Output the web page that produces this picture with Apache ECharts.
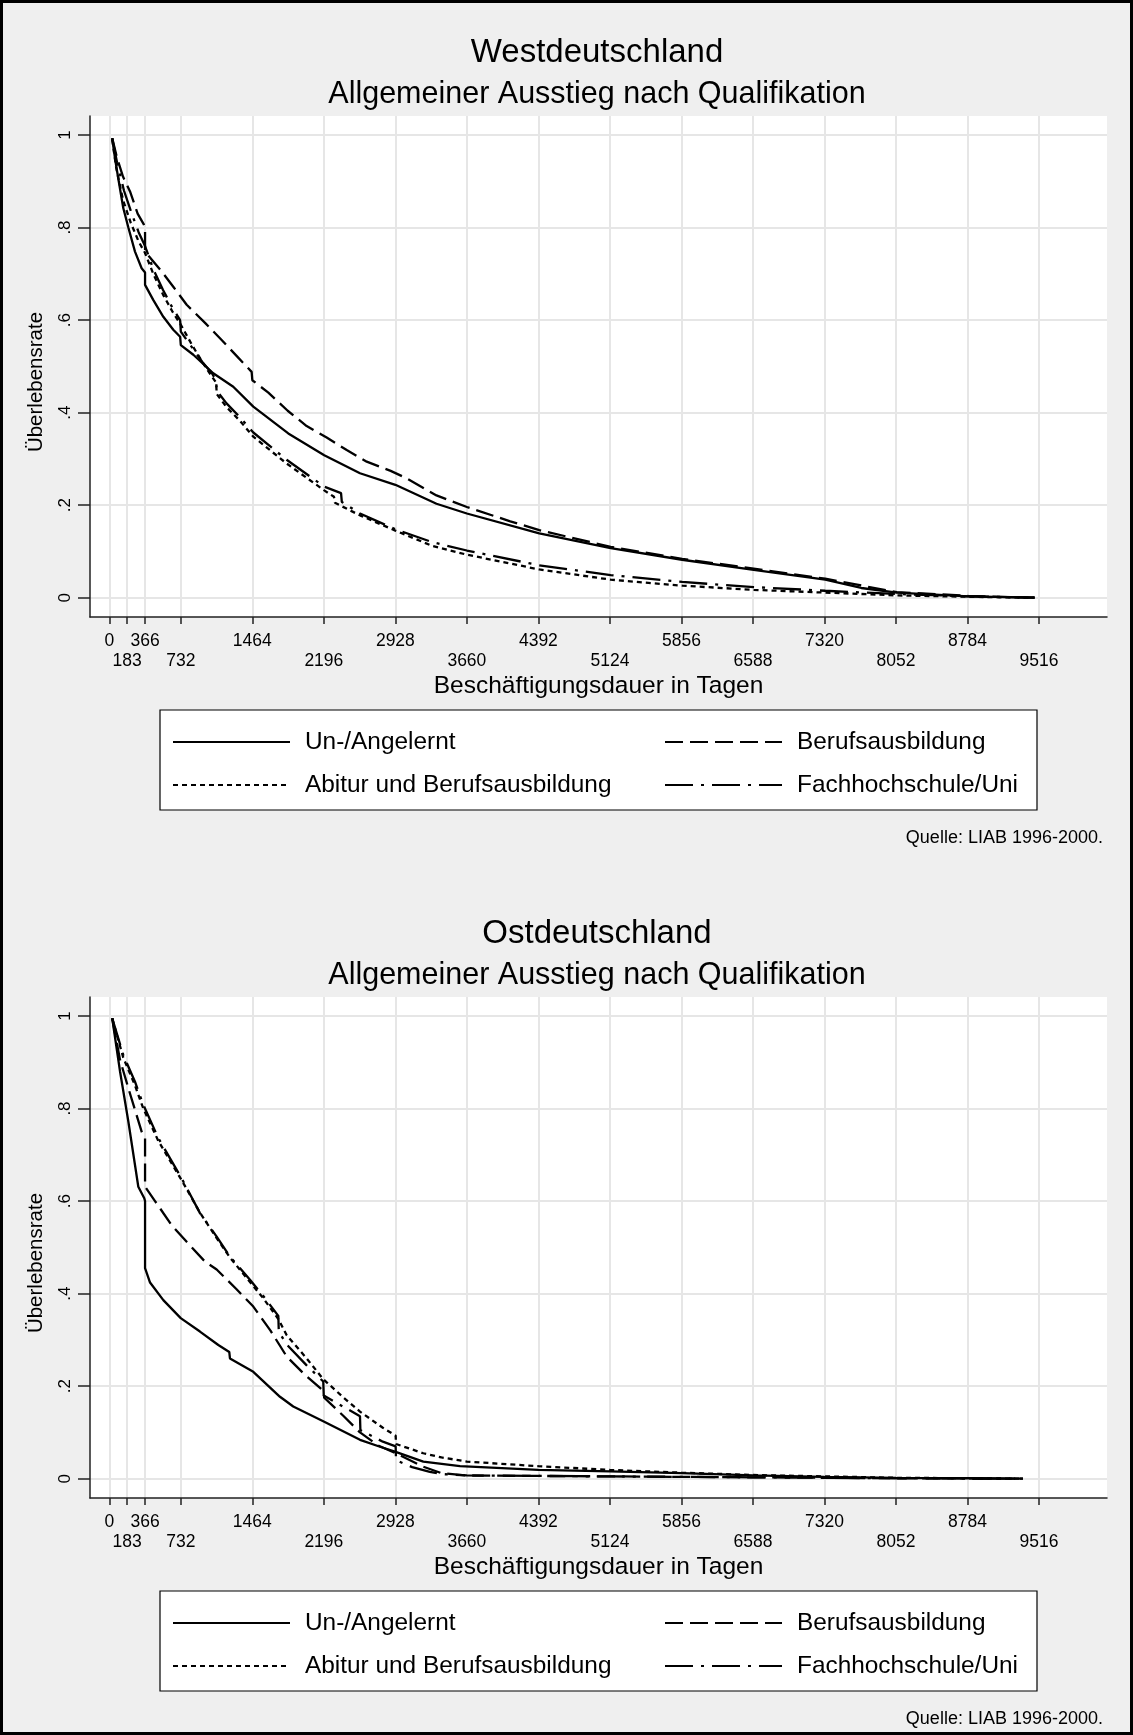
<!DOCTYPE html>
<html><head><meta charset="utf-8">
<script src="https://cdn.jsdelivr.net/npm/echarts@6/dist/echarts.min.js"></script>
<style>html,body{margin:0;padding:0;background:#efefef}#c{width:1133px;height:1735px}</style>
</head><body><div id="c"></div>
<script>
// ---------- data ----------
const xTicks = [0,183,366,732,1464,2196,2928,3660,4392,5124,5856,6588,7320,8052,8784,9516];
const yTicks = [0,0.2,0.4,0.6,0.8,1];
const seriesNames = ['Un-/Angelernt','Berufsausbildung','Abitur und Berufsausbildung','Fachhochschule/Uni'];
const panelTitles = ['Westdeutschland','Ostdeutschland'];
const subTitle = 'Allgemeiner Ausstieg nach Qualifikation';
const xTitle = 'Beschäftigungsdauer in Tagen';
const yTitle = 'Überlebensrate';
const sourceNote = 'Quelle: LIAB 1996-2000.';

// West: [days, survival]
const westUn = [[30,0.993],[58,0.95],[92,0.906],[143,0.842],[195,0.80],[263,0.748],[331,0.712],[366,0.703],[366,0.676],[451,0.643],[553,0.607],[655,0.579],[725,0.564],[732,0.546],[860,0.525],[1064,0.485],[1269,0.456],[1474,0.413],[1832,0.355],[2200,0.308],[2566,0.269],[2928,0.244],[3349,0.203],[3660,0.182],[4401,0.139],[5132,0.107],[5863,0.082],[6596,0.06],[7328,0.039],[7697,0.021],[8061,0.011],[8792,0.003],[9470,0.0]];
const westBeruf = [[30,0.993],[80,0.95],[140,0.91],[212,0.878],[290,0.83],[350,0.808],[366,0.80],[366,0.748],[536,0.705],[655,0.672],[792,0.633],[980,0.594],[1150,0.557],[1310,0.521],[1457,0.488],[1464,0.47],[1628,0.443],[1826,0.404],[2020,0.371],[2225,0.346],[2430,0.319],[2635,0.294],[2880,0.274],[3044,0.258],[3349,0.221],[3660,0.196],[4104,0.165],[4401,0.146],[5132,0.110],[5863,0.084],[6596,0.063],[7328,0.041],[8061,0.012],[8792,0.004],[9470,0.0]];
const westAbitur = [[30,0.99],[70,0.93],[140,0.86],[220,0.81],[300,0.77],[366,0.745],[450,0.70],[550,0.655],[650,0.617],[732,0.59],[850,0.545],[950,0.51],[1050,0.478],[1093,0.465],[1100,0.44],[1200,0.412],[1338,0.382],[1474,0.348],[1815,0.29],[2200,0.232],[2300,0.218],[2310,0.205],[2566,0.178],[2928,0.145],[3305,0.112],[3660,0.093],[4401,0.061],[5132,0.039],[5863,0.026],[6596,0.017],[7328,0.011],[8061,0.005],[8792,0.002],[9470,0.0]];
const westFH = [[30,0.993],[80,0.94],[150,0.88],[230,0.83],[300,0.79],[366,0.76],[450,0.71],[550,0.665],[650,0.625],[725,0.60],[732,0.575],[850,0.54],[950,0.51],[1050,0.485],[1093,0.47],[1100,0.447],[1200,0.42],[1338,0.39],[1474,0.357],[1815,0.298],[2200,0.24],[2372,0.226],[2380,0.207],[2566,0.182],[2928,0.148],[3305,0.12],[3660,0.102],[4401,0.07],[5132,0.049],[5863,0.034],[6596,0.023],[7328,0.015],[8061,0.008],[8792,0.003],[9470,0.0]];

// Ost: [days, survival]
const ostUn = [[30,0.995],[110,0.88],[195,0.772],[263,0.678],[297,0.631],[358,0.606],[366,0.60],[366,0.455],[417,0.424],[553,0.386],[731,0.347],[928,0.318],[1116,0.289],[1228,0.274],[1235,0.26],[1474,0.231],[1747,0.177],[1883,0.156],[2200,0.123],[2566,0.084],[2771,0.069],[2931,0.058],[3214,0.037],[3590,0.027],[4392,0.019],[5124,0.016],[5856,0.012],[6588,0.007],[7320,0.004],[8052,0.002],[8784,0.001],[9350,0.0]];
const ostBeruf = [[30,0.995],[110,0.905],[195,0.844],[331,0.75],[366,0.736],[366,0.631],[468,0.6],[638,0.548],[792,0.512],[980,0.469],[1099,0.452],[1300,0.41],[1474,0.372],[1650,0.32],[1816,0.264],[2000,0.225],[2190,0.19],[2200,0.175],[2400,0.135],[2566,0.1],[2750,0.072],[2931,0.055],[3214,0.026],[3400,0.012],[3660,0.007],[4392,0.006],[5124,0.005],[5856,0.004],[6588,0.003],[7320,0.002],[8052,0.001],[8784,0.0005],[9350,0.0]];
const ostAbitur = [[30,0.995],[143,0.91],[263,0.85],[348,0.80],[502,0.73],[741,0.645],[928,0.575],[1099,0.52],[1235,0.478],[1440,0.425],[1576,0.39],[1730,0.345],[1816,0.31],[2020,0.26],[2190,0.215],[2400,0.175],[2566,0.145],[2800,0.11],[2931,0.093],[2935,0.075],[3214,0.055],[3400,0.046],[3660,0.037],[4392,0.027],[5124,0.019],[5856,0.013],[6588,0.008],[7320,0.005],[8052,0.002],[8784,0.001],[9350,0.0]];
const ostFH = [[30,0.995],[143,0.916],[263,0.858],[348,0.808],[502,0.736],[741,0.649],[928,0.574],[1099,0.523],[1235,0.48],[1440,0.43],[1576,0.395],[1730,0.352],[1735,0.318],[1816,0.29],[2020,0.245],[2190,0.21],[2195,0.18],[2400,0.155],[2566,0.135],[2570,0.105],[2800,0.08],[2931,0.07],[2935,0.04],[3100,0.025],[3281,0.015],[3400,0.01],[3660,0.007],[4392,0.006],[5124,0.005],[5856,0.004],[6588,0.003],[7320,0.002],[8052,0.001],[8784,0.0005],[9350,0.0]];

const panelData = [[westUn, westBeruf, westAbitur, westFH],[ostUn, ostBeruf, ostAbitur, ostFH]];

// ---------- styles / layout ----------
const FONT = 'Liberation Sans, Arial, sans-serif';
const dashTypes = ['solid',[18,7],[5,4],[28,8,3,8]];
const OFF = 881;
const X_MIN = -197.5, X_MAX = 10212;
const xRow1 = xTicks.filter((v,i)=>i%2===0);
const xRow2 = xTicks.filter((v,i)=>i%2===1);
const plainFmt = (v)=>String(v);
const chart = echarts.init(document.getElementById('c'), null, {renderer:'canvas'});

const grids=[], xAxes=[], yAxes=[], series=[], titles=[], legends=[], graphics=[];
graphics.push({type:'rect', z:0, shape:{x:1.5,y:1.5,width:1130,height:1732}, style:{fill:null, stroke:'#000', lineWidth:3}});

for (let p=0;p<2;p++){
  const dy = p*OFF;
  grids.push({left:90, top:116+dy, width:1017, height:501, show:true, backgroundColor:'#fff', borderWidth:0, containLabel:false});
  // main x axis: line, all ticks, gridlines, first label row, title
  xAxes.push({
    type:'value', gridIndex:p, min:X_MIN, max:X_MAX, position:'bottom',
    axisLine:{show:true, onZero:false, lineStyle:{color:'#222', width:1.5}},
    axisTick:{show:true, length:7, customValues:xTicks, lineStyle:{color:'#222', width:1.5}},
    axisLabel:{customValues:xRow1, showMinLabel:true, showMaxLabel:true, hideOverlap:false, formatter:plainFmt,
      fontSize:17.5, color:'#000', fontFamily:FONT, lineHeight:20, margin:14},
    splitLine:{show:true, lineStyle:{color:'#e6e6e6', width:2}},
    name:xTitle, nameLocation:'middle', nameGap:57,
    nameTextStyle:{fontSize:24.5, color:'#000', fontFamily:FONT}
  });
  // second x axis on same scale: second label row only
  xAxes.push({
    type:'value', gridIndex:p, min:X_MIN, max:X_MAX, position:'bottom', offset:0,
    axisLine:{show:false, onZero:false}, axisTick:{show:false}, splitLine:{show:false},
    axisLabel:{customValues:xRow2, showMinLabel:true, showMaxLabel:true, hideOverlap:false, formatter:plainFmt,
      fontSize:17.5, color:'#000', fontFamily:FONT, lineHeight:20, margin:34}
  });
  yAxes.push({
    type:'value', gridIndex:p, min:-0.0417, max:1.041,
    axisLine:{show:true, onZero:false, lineStyle:{color:'#222', width:1.5}},
    axisTick:{show:true, length:12, customValues:yTicks, lineStyle:{color:'#222', width:1.5}},
    axisLabel:{customValues:yTicks, showMinLabel:true, showMaxLabel:true, rotate:90, fontSize:17, color:'#000', fontFamily:FONT, margin:16,
      formatter:(v)=> v===0?'0':(v===1?'1':'.'+Math.round(v*10))},
    splitLine:{show:true, lineStyle:{color:'#e6e6e6', width:2}},
    name:yTitle, nameLocation:'middle', nameRotate:90, nameGap:43,
    nameTextStyle:{fontSize:20.5, color:'#000', fontFamily:FONT, padding:[0,31,0,0]}
  });
  for (let s=0;s<4;s++){
    series.push({type:'line', name:seriesNames[s], xAxisIndex:2*p, yAxisIndex:p, data:panelData[p][s],
      symbol:'none', showSymbol:false, animation:false, silent:true, z:5,
      itemStyle:{color:'#000'},
      lineStyle:{color:'#000', width:2.3, type:dashTypes[s]}});
  }
  titles.push({text:panelTitles[p], left:597, top:34+dy, textAlign:'center', padding:0,
    textStyle:{fontSize:33, fontWeight:'normal', color:'#000', fontFamily:FONT, lineHeight:38}});
  titles.push({text:subTitle, left:597, top:78+dy, textAlign:'center', padding:0,
    textStyle:{fontSize:30.5, fontWeight:'normal', color:'#000', fontFamily:FONT, lineHeight:34}});
  titles.push({text:sourceNote, right:30, top:828+dy, padding:0,
    textStyle:{fontSize:18, fontWeight:'normal', color:'#000', fontFamily:FONT, lineHeight:20}});
  graphics.push({type:'rect', z:1, shape:{x:160, y:710+dy, width:877, height:100}, style:{fill:'#fff', stroke:'#000', lineWidth:1.2}});
  const legPos = [[172,730],[664,730],[172,773],[664,773]];
  for (let s=0;s<4;s++){
    legends.push({data:[seriesNames[s]], left:legPos[s][0], top:legPos[s][1]+dy, padding:0, itemWidth:117, itemHeight:26,
      selectedMode:false, itemStyle:{opacity:0},
      textStyle:{fontSize:24.4, color:'#000', fontFamily:FONT, padding:[0,0,0,10]}});
  }
}

chart.setOption({
  backgroundColor:'#efefef',
  animation:false,
  title:titles, legend:legends, grid:grids, xAxis:xAxes, yAxis:yAxes, series:series, graphic:graphics
});
</script></body></html>
